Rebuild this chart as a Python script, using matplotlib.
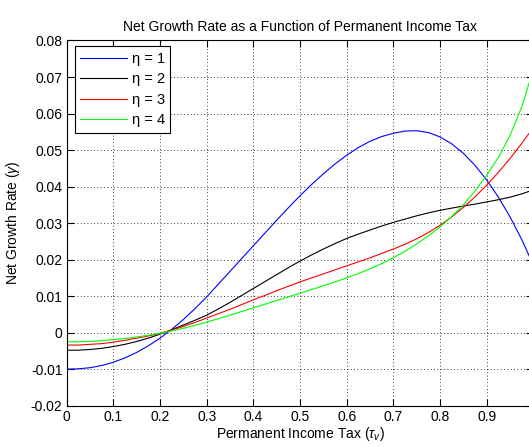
import matplotlib
matplotlib.use('Agg')
import matplotlib.pyplot as plt

plt.rcParams['font.family'] = ['Liberation Sans', 'DejaVu Sans']
plt.rcParams['mathtext.fontset'] = 'custom'
plt.rcParams['mathtext.rm'] = 'Liberation Sans'
plt.rcParams['mathtext.it'] = 'Liberation Sans:italic'

# tax rate grid (step 0.025)
tax = [0.0, 0.025, 0.05, 0.075, 0.1, 0.125, 0.15, 0.175, 0.2, 0.225,
       0.25, 0.275, 0.3, 0.325, 0.35, 0.375, 0.4, 0.425, 0.45, 0.475,
       0.5, 0.525, 0.55, 0.575, 0.6, 0.625, 0.65, 0.675, 0.7, 0.725,
       0.75, 0.775, 0.8, 0.825, 0.85, 0.875, 0.9, 0.925, 0.95, 0.975, 1.0]

# net growth rate for each eta
eta1 = [-0.0100, -0.0099, -0.0096, -0.0090, -0.0081, -0.0069, -0.0054, -0.0036,
        -0.0015, 0.0009, 0.0036, 0.0066, 0.0098, 0.0133, 0.0168, 0.0203,
        0.0238, 0.0273, 0.0308, 0.0342, 0.0375, 0.0406, 0.0435, 0.0462,
        0.0486, 0.0507, 0.0524, 0.0537, 0.0546, 0.0552, 0.0553, 0.0548,
        0.0536, 0.0517, 0.0491, 0.0458, 0.0418, 0.0371, 0.0317, 0.0255, 0.0185]
eta2 = [-0.0048, -0.0048, -0.0046, -0.0043, -0.0038, -0.0032, -0.0024, -0.0015,
        -0.0004, 0.0008, 0.0021, 0.0034, 0.0048, 0.0065, 0.0083, 0.0102,
        0.0121, 0.0140, 0.0159, 0.0178, 0.0196, 0.0213, 0.0229, 0.0244,
        0.0258, 0.0270, 0.0281, 0.0292, 0.0302, 0.0311, 0.0320, 0.0328,
        0.0335, 0.0341, 0.0347, 0.0352, 0.0358, 0.0364, 0.0371, 0.0380, 0.0391]
eta3 = [-0.0034, -0.0034, -0.0032, -0.0030, -0.0026, -0.0021, -0.0015, -0.0009,
        -0.0002, 0.0007, 0.0017, 0.0028, 0.0040, 0.0052, 0.0064, 0.0077,
        0.0090, 0.0102, 0.0115, 0.0127, 0.0139, 0.0150, 0.0161, 0.0172,
        0.0183, 0.0194, 0.0205, 0.0217, 0.0229, 0.0242, 0.0257, 0.0274,
        0.0294, 0.0317, 0.0343, 0.0372, 0.0404, 0.0439, 0.0477, 0.0518, 0.0562]
eta4 = [-0.0025, -0.0025, -0.0024, -0.0022, -0.0019, -0.0016, -0.0012, -0.0007,
        -0.0002, 0.0005, 0.0012, 0.0020, 0.0029, 0.0038, 0.0048, 0.0058,
        0.0068, 0.0078, 0.0088, 0.0098, 0.0108, 0.0118, 0.0128, 0.0139,
        0.0150, 0.0162, 0.0175, 0.0189, 0.0205, 0.0223, 0.0243, 0.0265,
        0.0290, 0.0318, 0.0350, 0.0388, 0.0431, 0.0480, 0.0540, 0.0618, 0.0722]

labels = ['\u03b7 = 1', '\u03b7 = 2', '\u03b7 = 3', '\u03b7 = 4']
colors = ['#0000ff', '#000000', '#ff0000', '#00ff00']

xticks = [0, 0.1, 0.2, 0.3, 0.4, 0.5, 0.6, 0.7, 0.8, 0.9, 1.0]
# the "1" label falls outside the cropped figure, so it stays blank
xticklabels = ['0', '0.1', '0.2', '0.3', '0.4', '0.5', '0.6', '0.7', '0.8', '0.9', '']
yticks = [-0.02, -0.01, 0, 0.01, 0.02, 0.03, 0.04, 0.05, 0.06, 0.07, 0.08]
yticklabels = ['-0.02', '-0.01', '0', '0.01', '0.02', '0.03', '0.04', '0.05', '0.06', '0.07', '0.08']

fig = plt.figure(figsize=(5.29, 4.47), dpi=100)
# the original figure is cut off on the right, so the axes runs past the edge
ax = fig.add_axes([0.1261, 0.0924, 0.8822, 0.8170])

for ys, lab, c in zip([eta1, eta2, eta3, eta4], labels, colors):
    ax.plot(tax, ys, color=c, lw=0.8, label=lab)

ax.set_xlim(0, 1)
ax.set_ylim(-0.02, 0.08)
ax.set_xticks(xticks)
ax.set_xticklabels(xticklabels)
ax.set_yticks(yticks)
ax.set_yticklabels(yticklabels)
ax.tick_params(direction='in', length=5, width=0.8, top=True, right=True,
               labelsize=10, pad=3)
ax.grid(True, color='black', linestyle=(0, (1, 3)), linewidth=0.6)
for s in ax.spines.values():
    s.set_linewidth(0.8)

ax.set_title('Net Growth Rate as a Function of Permanent Income Tax',
             fontsize=10, pad=7)
ax.set_xlabel(r'Permanent Income Tax ($\tau_v$)', fontsize=10, labelpad=1)
ax.set_ylabel(r'Net Growth Rate ($\gamma$)', fontsize=10, labelpad=6)

leg = ax.legend(loc='upper left', bbox_to_anchor=(0.017, 0.985), fontsize=10.5,
                handlelength=3.2, handletextpad=0.3, labelspacing=0.45,
                borderpad=0.4, fancybox=False, framealpha=1, borderaxespad=0)
leg.get_frame().set_edgecolor('black')
leg.get_frame().set_linewidth(0.8)

fig.savefig('out.png', dpi=100)
